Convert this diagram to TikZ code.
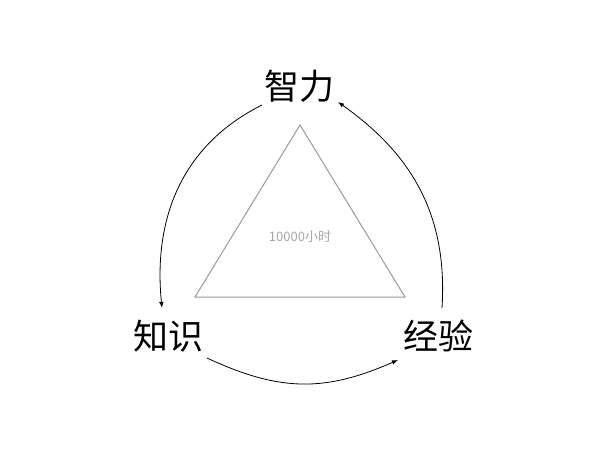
\documentclass[tikz,border=0pt]{standalone}
\usepackage{fontspec}
\setmainfont{Noto Sans CJK SC}
\usetikzlibrary{arrows.meta,calc}
\tikzset{
  lbl/.style={inner sep=0pt, font=\fontsize{35}{40}\selectfont},
  conn/.style={line width=0.8pt, -{Latex[length=6pt,width=4.5pt]}},
  tri/.style={draw=black!40, line width=1pt, line join=miter},
}
\begin{document}
\begin{tikzpicture}[x=1pt,y=-1pt]
\useasboundingbox (0,0) rectangle (600,450);
\coordinate (A) at (300,125);
\coordinate (B) at (195,297);
\coordinate (C) at (405,297);
\draw[tri] (A) -- (B) -- (C) -- cycle;
\node[inner sep=0pt, text=black!35, font=\fontsize{13}{15}\selectfont] (tt) at (300,237) {10000小时};
\node[lbl] (zl) at (299,86) {智力};
\node[lbl] (zs) at (168,336) {知识};
\node[lbl] (jy) at (438,336) {经验};
\draw[conn] ($(zl.center)+(-37,19)$) .. controls +(-80,40) and +(-9,-90) .. ($(zs.center)+(-6,-28)$);
\draw[conn] ($(zs.center)+(39,22)$) .. controls +(73,34) and +(-73,32) .. ($(jy.center)+(-40,24)$);
\draw[conn] ($(jy.center)+(4,-28)$) .. controls +(6,-95) and +(72,51) .. ($(zl.center)+(39,16)$);
\end{tikzpicture}
\end{document}
